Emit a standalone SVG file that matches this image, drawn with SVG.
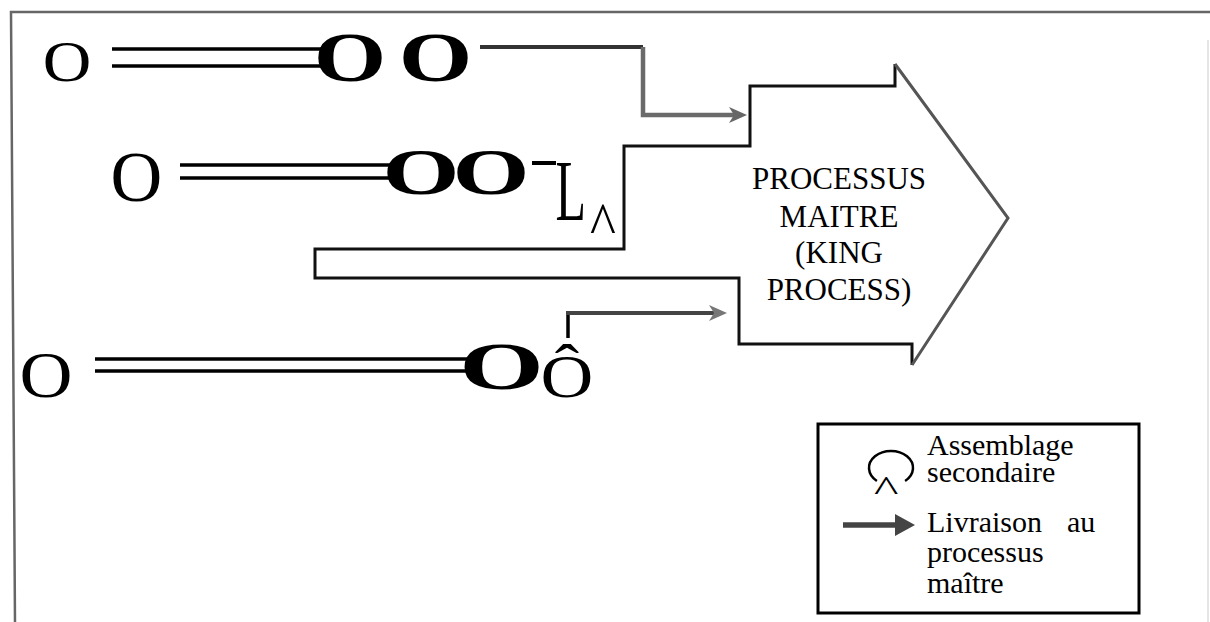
<svg xmlns="http://www.w3.org/2000/svg" width="1210" height="622" viewBox="0 0 1210 622">
<style>
.t{font-family:"Liberation Serif","Times New Roman",serif;fill:#000}
.b{font-weight:bold}
.dl{stroke:#000;stroke-width:3.5;fill:none}
.frame{stroke:#666;stroke-width:2.5;fill:none}
.outline{stroke:#111;stroke-width:3;fill:none;stroke-linejoin:miter}
.head{stroke:#555;stroke-width:3;fill:none}
.lbl{font-size:31px}
.leg{font-size:30px}
</style>
<defs>
<marker id="ah" markerUnits="userSpaceOnUse" markerWidth="20" markerHeight="18" refX="8" refY="8" orient="auto">
<path d="M0,0 L18,8 L0,16 L5,8 Z" fill="#666"/>
</marker>
<marker id="ah3" markerUnits="userSpaceOnUse" markerWidth="20" markerHeight="18" refX="8" refY="8" orient="auto">
<path d="M0,0 L18,8 L0,16 L5,8 Z" fill="#777"/>
</marker>
</defs>
<rect x="0" y="0" width="1210" height="622" fill="#fff"/>
<g id="frame">
<path class="frame" d="M15,622 L11,12 L1210,12"/>
<path d="M1208,40 V622" stroke="#ddd" stroke-width="1.5" fill="none"/>
</g>
<g id="king-process">
<path class="outline" d="M895,64 V86 H750 V146 H624 V249 H315 V278 H739 V344 H912 V365"/>
<path class="head" d="M895,64 L1008,218 L912,365"/>
<text class="t lbl" x="839" y="189" text-anchor="middle">PROCESSUS</text>
<text class="t lbl" x="839" y="227" text-anchor="middle">MAITRE</text>
<text class="t lbl" x="839" y="263" text-anchor="middle">(KING</text>
<text class="t lbl" x="839" y="300" text-anchor="middle">PROCESS)</text>
</g>
<g id="row1">
<text class="t" font-size="56.5" transform="translate(42.7,81.2) scale(1.19,1)" x="0" y="0">O</text>
<line class="dl" x1="112" y1="49" x2="321" y2="49"/>
<line class="dl" x1="112" y1="66" x2="321" y2="66"/>
<text class="t b" font-size="69" transform="translate(313.7,80.7) scale(1.35,1)" x="0" y="0">O</text>
<text class="t b" font-size="69" transform="translate(398.7,80.7) scale(1.37,1)" x="0" y="0">O</text>
</g>
<g id="row2">
<text class="t" font-size="71" transform="translate(110.6,201) scale(1.01,1)" x="0" y="0">O</text>
<line class="dl" x1="180" y1="165" x2="390" y2="165"/>
<line class="dl" x1="180" y1="178" x2="390" y2="178"/>
<text class="t b" font-size="66" transform="translate(382.5,193.7) scale(1.5,1)" x="0" y="0">O</text>
<text class="t b" font-size="66" transform="translate(452.5,193.7) scale(1.5,1)" x="0" y="0">O</text>
<line x1="532" y1="163" x2="556" y2="163" stroke="#000" stroke-width="4"/>
<text class="t" font-size="86" transform="translate(555.4,220) scale(0.58,1)" x="0" y="0">L</text>
<text class="t" font-size="55" transform="translate(590,245) scale(1,1.1)" x="0" y="0">^</text>
</g>
<g id="row3">
<text class="t" font-size="65" transform="translate(19.5,397) scale(1.13,1)" x="0" y="0">O</text>
<line class="dl" x1="95" y1="359" x2="468" y2="359"/>
<line class="dl" x1="95" y1="371" x2="468" y2="371"/>
<text class="t b" font-size="67.6" transform="translate(459.2,388.7) scale(1.61,1)" x="0" y="0">O</text>
<text class="t" font-size="55" transform="translate(540.5,397.2) scale(1.33,1.1)" x="0" y="0">Ô</text>
</g>
<g id="connectors">
<path d="M480,47 H643" stroke="#333" stroke-width="4" fill="none"/>
<path d="M643,47 V115 H737" stroke="#6a6a6a" stroke-width="4.5" fill="none" marker-end="url(#ah)"/>
<path d="M568,338 V313" stroke="#000" stroke-width="3.5" fill="none"/>
<path d="M566,313 H717" stroke="#444" stroke-width="4" fill="none" marker-end="url(#ah3)"/>
</g>
<g id="legend">
<rect x="818" y="424" width="321" height="189" fill="none" stroke="#000" stroke-width="3"/>
<path d="M876.9,481 A22,17 0 1 1 905.1,481" fill="none" stroke="#000" stroke-width="2.5"/>
<text class="t" font-size="52" transform="translate(874,501) scale(1,0.7)" x="0" y="0">^</text>
<text class="t leg" x="927" y="455">Assemblage</text>
<text class="t leg" x="927" y="482">secondaire</text>
<line x1="843" y1="525" x2="899" y2="525" stroke="#444" stroke-width="5.5"/>
<polygon points="895,514 915,525 895,536" fill="#444"/>
<text class="t leg" x="927" y="532">Livraison<tspan x="1067">au</tspan></text>
<text class="t leg" x="927" y="562">processus</text>
<text class="t leg" x="927" y="593">maître</text>
</g>
</svg>
